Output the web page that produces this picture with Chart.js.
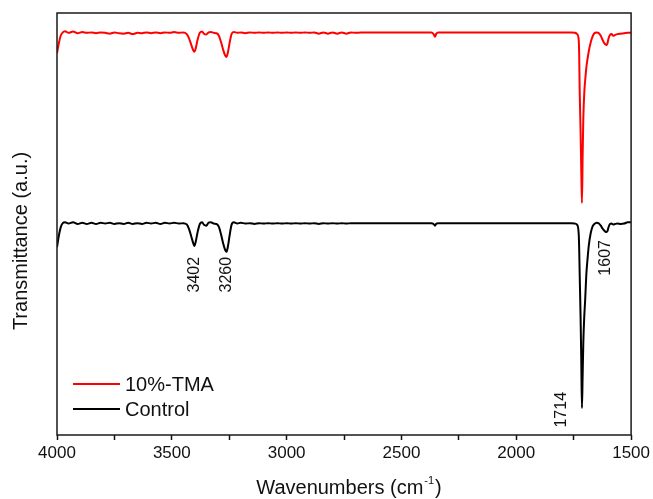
<!DOCTYPE html>
<html>
<head>
<meta charset="utf-8">
<script src="https://cdn.jsdelivr.net/npm/chart.js@4.4.1/dist/chart.umd.min.js"></script>
<style>
  html, body { margin: 0; padding: 0; background: #fff; }
  #wrap { width: 653px; height: 499px; position: relative; }
</style>
</head>
<body>
<div id="wrap"><canvas id="ftir"></canvas></div>
<script>
// FTIR spectra, wavenumber (cm-1) against transmittance (a.u., curves offset vertically)
const wavenumbers = [
  4000, 3992, 3984, 3975, 3965, 3950, 3930, 3910, 3890, 3870, 3850, 3830, 3810, 3790, 3770, 3750,
  3730, 3710, 3690, 3670, 3650, 3630, 3610, 3590, 3570, 3550, 3530, 3510, 3490, 3470, 3450, 3435,
  3425, 3415, 3407, 3402, 3396, 3388, 3378, 3368, 3360, 3350, 3340, 3330, 3318, 3305, 3295, 3285,
  3276, 3268, 3262, 3256, 3248, 3240, 3230, 3215, 3200, 3180, 3160, 3140, 3120, 3100, 3080, 3060,
  3040, 3020, 3000, 2980, 2960, 2940, 2920, 2900, 2880, 2860, 2840, 2820, 2800, 2780, 2760, 2740,
  2720, 2700, 2650, 2600, 2550, 2500, 2450, 2400, 2370, 2360, 2354, 2348, 2340, 2300, 2250, 2200,
  2150, 2100, 2050, 2000, 1950, 1900, 1850, 1800, 1760, 1745, 1735, 1728, 1726, 1724, 1720, 1717,
  1714, 1711, 1708, 1704, 1700, 1695, 1690, 1684, 1676, 1668, 1660, 1650, 1640, 1632, 1624, 1616,
  1610, 1607, 1603, 1598, 1592, 1585, 1578, 1570, 1560, 1545, 1530, 1515, 1500
];

const tmaTransmittance = [
  90.5, 92.8, 94.6, 95.4, 95.7, 95.3, 95.6, 95.2, 95.5, 95.3, 95.4, 95.2, 95.4, 95.3, 95.1, 95.4,
  95.2, 95.1, 95.3, 95.0, 95.3, 95.2, 95.4, 95.2, 95.4, 95.2, 95.4, 95.3, 95.5, 95.3, 95.4, 95.0,
  94.0, 92.4, 91.2, 90.8, 91.6, 93.6, 95.3, 95.6, 95.1, 94.9, 95.4, 95.5, 95.3, 95.2, 94.6, 93.0,
  91.2, 90.0, 89.6, 90.6, 93.0, 95.0, 95.5, 95.3, 95.4, 95.2, 95.4, 95.3, 95.4, 95.3, 95.4, 95.3,
  95.4, 95.3, 95.4, 95.3, 95.4, 95.3, 95.4, 95.3, 95.4, 95.1, 95.4, 95.1, 95.4, 95.1, 95.4, 95.1,
  95.4, 95.3, 95.4, 95.4, 95.4, 95.4, 95.4, 95.4, 95.4, 95.0, 94.4, 95.1, 95.4, 95.4, 95.4, 95.4,
  95.4, 95.4, 95.4, 95.4, 95.4, 95.4, 95.4, 95.4, 95.4, 95.3, 95.0, 93.5, 90.0, 82.0, 72.0, 63.0,
  55.0, 66.0, 75.0, 81.0, 84.0, 87.0, 89.0, 91.0, 93.0, 94.4, 95.2, 95.4, 95.2, 94.6, 93.6, 92.8,
  92.5, 92.4, 92.8, 94.0, 94.8, 95.0, 94.6, 94.8, 95.0, 95.1, 95.2, 95.3, 95.3
];

const controlTransmittance = [
  44.5, 47.2, 49.2, 50.2, 50.4, 50.1, 50.4, 50.0, 50.3, 50.0, 50.3, 50.0, 50.3, 50.1, 50.3, 50.0,
  50.2, 50.0, 50.3, 50.0, 50.2, 50.0, 50.3, 50.1, 50.3, 50.0, 50.3, 50.1, 50.3, 50.1, 50.2, 49.9,
  48.8, 47.0, 45.5, 44.8, 45.8, 48.0, 50.0, 50.4, 49.8, 49.6, 50.3, 50.4, 50.1, 50.0, 49.3, 47.4,
  45.3, 43.9, 43.4, 44.6, 47.4, 49.8, 50.4, 50.1, 50.3, 50.1, 50.2, 50.0, 50.2, 50.1, 50.2, 50.1,
  50.2, 50.1, 50.2, 50.1, 50.2, 50.1, 50.2, 50.1, 50.2, 50.0, 50.2, 50.1, 50.2, 50.1, 50.2, 50.1,
  50.2, 50.2, 50.2, 50.2, 50.2, 50.2, 50.2, 50.2, 50.2, 50.0, 49.6, 50.1, 50.2, 50.2, 50.2, 50.2,
  50.2, 50.2, 50.2, 50.2, 50.2, 50.2, 50.2, 50.2, 50.2, 50.1, 49.8, 47.5, 44.0, 38.5, 28.0, 18.0,
  6.4, 14.0, 22.0, 28.0, 32.0, 38.0, 41.5, 45.0, 47.8, 49.4, 50.0, 50.3, 50.1, 49.6, 48.9, 48.4,
  48.1, 48.1, 48.3, 49.3, 50.0, 50.1, 49.9, 50.0, 50.1, 50.0, 50.1, 50.4, 50.4
];

const seriesNames = ['10%-TMA', 'Control'];
const seriesColors = ['#ff0000', '#000000'];
const xTickLabels = [4000, 3500, 3000, 2500, 2000, 1500];

// Assigned peak positions written beside the Control trace
const peakLabels = ['3402', '3260', '1714', '1607'];
const peakWavenumbers = [3402, 3260, 1714, 1607];

const FONT = "'Liberation Sans', Arial, Helvetica, sans-serif";
const INK = '#111111';

// Where each peak label sits: top end of the rotated text (in transmittance units) and a sideways nudge in px
const peakLabelPlacement = {
  '3402': { top: 42.2, dx: 0 },
  '3260': { top: 42.2, dx: 0 },
  '1714': { top: 10.2, dx: -20 },
  '1607': { top: 46.2, dx: -1 }
};

const toPoints = (vals) => wavenumbers.map((w, i) => ({ x: w, y: vals[i] }));

const decorations = {
  id: 'decorations',
  afterDraw(chart) {
    const { ctx, chartArea: a, scales } = chart;
    const xs = scales.x, ys = scales.y;
    ctx.save();

    // Plot frame
    ctx.strokeStyle = '#1a1a1a';
    ctx.lineWidth = 1.5;
    ctx.strokeRect(a.left, a.top, a.right - a.left, a.bottom - a.top);

    // Peak labels, rotated to read upward
    ctx.fillStyle = INK;
    ctx.font = `16px ${FONT}`;
    ctx.textAlign = 'right';
    ctx.textBaseline = 'middle';
    peakLabels.forEach((txt, i) => {
      const p = peakLabelPlacement[txt];
      const px = xs.getPixelForValue(peakWavenumbers[i]) + p.dx;
      const py = ys.getPixelForValue(p.top);
      ctx.save();
      ctx.translate(px, py);
      ctx.rotate(-Math.PI / 2);
      ctx.fillText(txt, 0, 0);
      ctx.restore();
    });

    // Legend, lower left inside the frame
    chart.data.datasets.forEach((ds, i) => {
      const y = 384 + i * 25;
      ctx.strokeStyle = ds.borderColor;
      ctx.lineWidth = 2;
      ctx.beginPath();
      ctx.moveTo(a.left + 16, y);
      ctx.lineTo(a.left + 63, y);
      ctx.stroke();
      ctx.fillStyle = INK;
      ctx.font = `20px ${FONT}`;
      ctx.textAlign = 'left';
      ctx.textBaseline = 'middle';
      ctx.fillText(ds.label, a.left + 68, y + 1);
    });

    // Y axis title
    ctx.save();
    ctx.translate(21, 241);
    ctx.rotate(-Math.PI / 2);
    ctx.font = `20px ${FONT}`;
    ctx.textAlign = 'center';
    ctx.textBaseline = 'middle';
    ctx.fillStyle = INK;
    ctx.fillText('Transmittance (a.u.)', 0, 0);
    ctx.restore();

    // X axis title with superscript unit
    const main = 'Wavenumbers (cm';
    const sup = '-1';
    const tail = ')';
    ctx.textBaseline = 'alphabetic';
    ctx.textAlign = 'left';
    ctx.font = `20px ${FONT}`;
    const w1 = ctx.measureText(main).width;
    const w3 = ctx.measureText(tail).width;
    ctx.font = `11px ${FONT}`;
    const w2 = ctx.measureText(sup).width;
    const total = w1 + w2 + 2 + w3;
    let x0 = 349 - total / 2;
    const base = 494;
    ctx.font = `20px ${FONT}`;
    ctx.fillText(main, x0, base);
    ctx.font = `11px ${FONT}`;
    ctx.fillText(sup, x0 + w1 + 1, base - 10);
    ctx.font = `20px ${FONT}`;
    ctx.fillText(tail, x0 + w1 + w2 + 2, base);

    ctx.restore();
  }
};

new Chart(document.getElementById('ftir'), {
  type: 'line',
  data: {
    datasets: [
      {
        label: seriesNames[0],
        data: toPoints(tmaTransmittance),
        borderColor: seriesColors[0],
        borderWidth: 2,
        pointRadius: 0,
        cubicInterpolationMode: 'monotone',
        fill: false
      },
      {
        label: seriesNames[1],
        data: toPoints(controlTransmittance),
        borderColor: seriesColors[1],
        borderWidth: 2,
        pointRadius: 0,
        cubicInterpolationMode: 'monotone',
        fill: false
      }
    ]
  },
  options: {
    responsive: true,
    maintainAspectRatio: false,
    animation: false,
    layout: { padding: { left: 0, top: 13, right: 20, bottom: 0 } },
    plugins: {
      legend: { display: false },
      tooltip: { enabled: false },
      title: { display: false }
    },
    scales: {
      x: {
        type: 'linear',
        reverse: true,
        min: 1500,
        max: 4000,
        afterFit: (s) => { s.height = 64; },
        border: { display: false },
        grid: {
          drawOnChartArea: false,
          drawTicks: true,
          tickLength: 5,
          tickColor: '#111',
          tickWidth: 1.5
        },
        ticks: {
          stepSize: 250,
          autoSkip: false,
          maxRotation: 0,
          padding: 3,
          color: INK,
          font: { family: FONT, size: 17 },
          callback: (v) => xTickLabels.includes(v) ? String(v) : ''
        }
      },
      y: {
        type: 'linear',
        min: 0,
        max: 100,
        afterFit: (s) => { s.width = 57; },
        border: { display: false },
        grid: { display: false },
        ticks: { display: false }
      }
    }
  },
  plugins: [decorations]
});
</script>
</body>
</html>
